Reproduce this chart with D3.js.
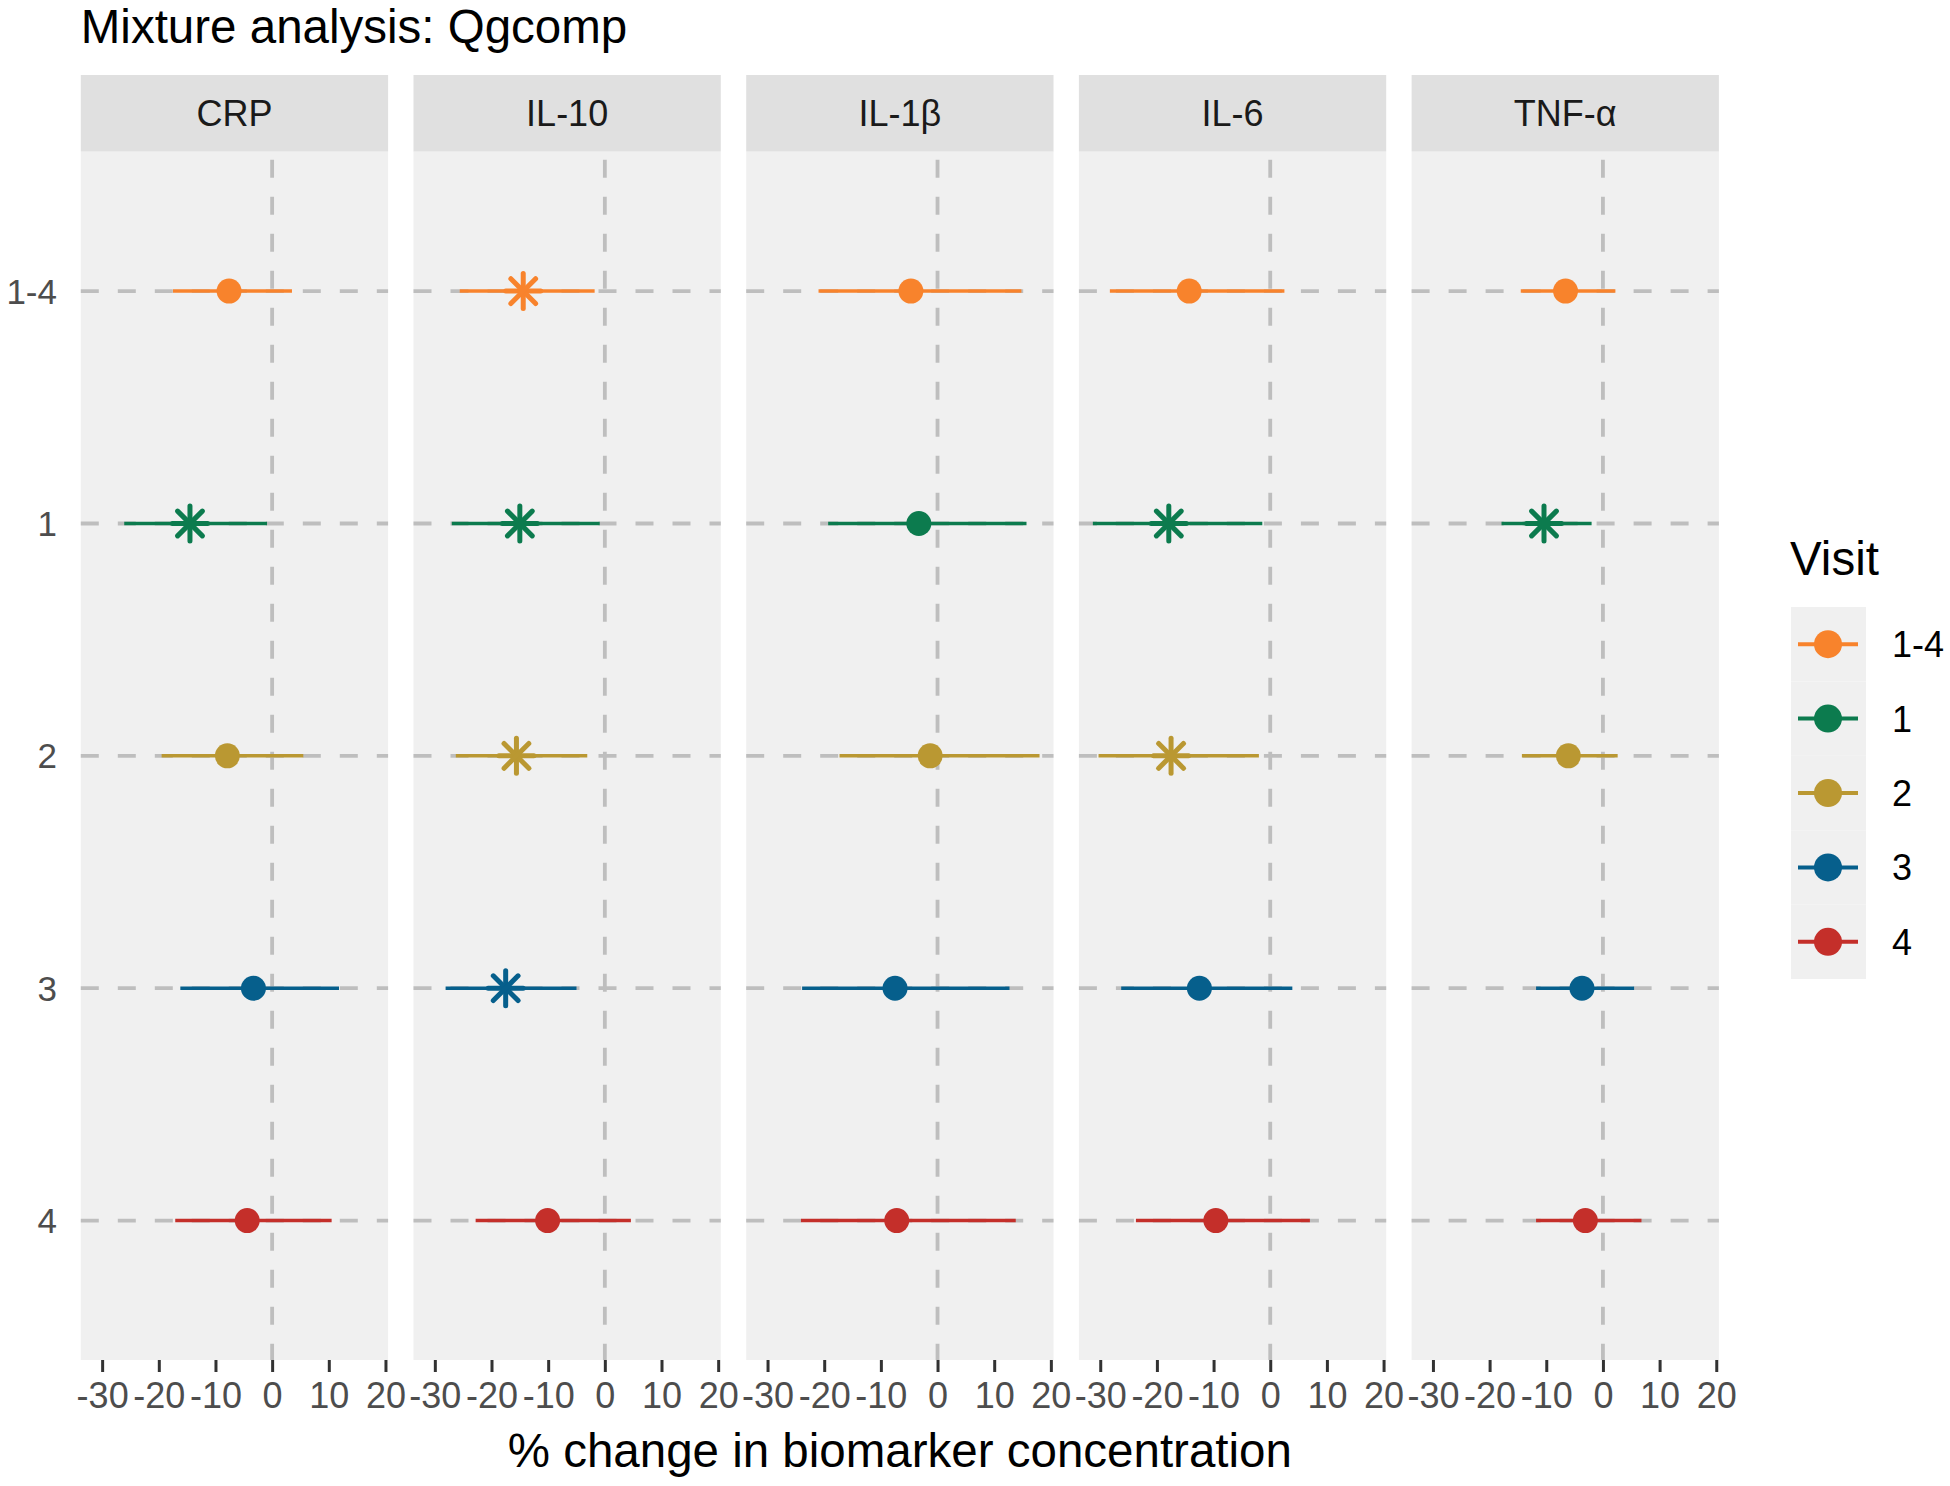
<!DOCTYPE html>
<html>
<head>
<meta charset="utf-8">
<script src="https://cdn.jsdelivr.net/npm/d3@7"></script>
<style>
  body { margin: 0; background: #fff; }
  svg text { font-family: "Liberation Sans", Arial, Helvetica, sans-serif; }
</style>
</head>
<body>
<div id="chart"></div>
<script>
// biomarkers (facets) and visits (rows)
const biomarkers = ["CRP", "IL-10", "IL-1β", "IL-6", "TNF-α"];
const visits = ["1-4", "1", "2", "3", "4"];
const visitColors = ["#F8832C", "#0C7B4E", "#BA9832", "#065F8C", "#C42F2A"];
const xTicks = [-30, -20, -10, 0, 10, 20];

// % change estimates, by visit order 1-4, 1, 2, 3, 4
const crpEst  = [-7.6, -14.5, -7.9, -3.3, -4.4];
const crpLo   = [-17.5, -26.1, -19.5, -16.2, -17.1];
const crpHi   = [3.5, -0.9, 5.5, 11.8, 10.5];
const il10Est = [-14.4, -15.0, -15.6, -17.5, -10.1];
const il10Lo  = [-25.6, -27.0, -26.3, -28.1, -22.8];
const il10Hi  = [-1.8, -0.9, -3.1, -5.0, 4.6];
const il1bEst = [-4.7, -3.3, -1.3, -7.5, -7.2];
const il1bLo  = [-21.0, -19.3, -17.3, -23.9, -24.1];
const il1bHi  = [14.8, 15.7, 18.0, 12.7, 13.8];
const il6Est  = [-14.3, -17.9, -17.5, -12.5, -9.6];
const il6Lo   = [-28.3, -31.3, -30.3, -26.3, -23.7];
const il6Hi   = [2.5, -1.4, -2.0, 3.9, 7.0];
const tnfEst  = [-6.6, -10.4, -6.1, -3.7, -3.1];
const tnfLo   = [-14.5, -17.9, -14.3, -11.8, -11.8];
const tnfHi   = [2.2, -2.0, 2.6, 5.5, 6.8];
// significant results drawn as asterisks
const crpSig  = [false, true, false, false, false];
const il10Sig = [true, true, true, true, false];
const il1bSig = [false, false, false, false, false];
const il6Sig  = [false, true, true, false, false];
const tnfSig  = [false, true, false, false, false];

const estimates = [crpEst, il10Est, il1bEst, il6Est, tnfEst];
const lowers = [crpLo, il10Lo, il1bLo, il6Lo, tnfLo];
const uppers = [crpHi, il10Hi, il1bHi, il6Hi, tnfHi];
const signif = [crpSig, il10Sig, il1bSig, il6Sig, tnfSig];

const rows = [];
biomarkers.forEach(function(b, i) {
  visits.forEach(function(v, j) {
    rows.push({bio: b, visit: v, est: estimates[i][j], lo: lowers[i][j], hi: uppers[i][j], sig: signif[i][j]});
  });
});

const W = 1950, H = 1486;
const panelLeft = 80.8, panelWidth = 307.3, panelStep = 332.7;
const stripTop = 75, stripBottom = 151.7, panelBottom = 1360;

const svg = d3.select("#chart").append("svg")
  .attr("width", W).attr("height", H);

// x scale: data range with 5% expansion, like ggplot
const lo = d3.min(rows, d => d.lo), hi = d3.max(rows, d => d.hi);
const pad = (hi - lo) * 0.05;
const x = d3.scaleLinear().domain([lo - pad, hi + pad]).range([0, panelWidth]);
const y = d3.scalePoint().domain(visits).range([stripBottom, panelBottom]).padding(0.6);
const color = d3.scaleOrdinal().domain(visits).range(visitColors);

// title
svg.append("text")
  .attr("x", panelLeft).attr("y", 43)
  .style("font-size", "47.5px").attr("fill", "#000")
  .text("Mixture analysis: Qgcomp");

// y labels
svg.append("g").selectAll("text")
  .data(visits).enter().append("text")
  .attr("x", 57).attr("y", d => y(d))
  .attr("dy", "0.36em")
  .attr("text-anchor", "end")
  .style("font-size", "35px").attr("fill", "#4D4D4D")
  .text(d => d);

const grey = "#BEBEBE";

biomarkers.forEach(function(b, i) {
  const g = svg.append("g")
    .attr("transform", "translate(" + (panelLeft + i * panelStep) + ",0)");

  // strip
  g.append("rect")
    .attr("x", 0).attr("y", stripTop)
    .attr("width", panelWidth).attr("height", stripBottom - stripTop)
    .attr("fill", "#E0E0E0");
  g.append("text")
    .attr("x", panelWidth / 2).attr("y", (stripTop + stripBottom) / 2)
    .attr("dy", "0.36em").attr("text-anchor", "middle")
    .style("font-size", "36px").attr("fill", "#1A1A1A")
    .text(b);

  // panel
  g.append("rect")
    .attr("x", 0).attr("y", stripBottom)
    .attr("width", panelWidth).attr("height", panelBottom - stripBottom)
    .attr("fill", "#F0F0F0");

  // dashed reference lines
  g.selectAll(".hline")
    .data(visits).enter().append("line")
    .attr("x1", 0).attr("x2", panelWidth)
    .attr("y1", d => y(d)).attr("y2", d => y(d))
    .attr("stroke", grey).attr("stroke-width", 3.8)
    .attr("stroke-dasharray", "18,19");
  g.append("line")
    .attr("x1", x(0)).attr("x2", x(0))
    .attr("y1", stripBottom + 8).attr("y2", panelBottom)
    .attr("stroke", grey).attr("stroke-width", 3.8)
    .attr("stroke-dasharray", "18,19");

  // x axis
  const ax = g.append("g")
    .attr("transform", "translate(0," + panelBottom + ")")
    .call(d3.axisBottom(x).tickValues(xTicks).tickSize(12).tickPadding(10).tickFormat(d => String(d)));
  ax.select(".domain").remove();
  ax.selectAll(".tick line").attr("stroke", "#333333").attr("stroke-width", 3);
  ax.selectAll(".tick text")
    .attr("fill", "#4D4D4D")
    .style("font-size", "36px")
    .style("font-family", "'Liberation Sans', Arial, sans-serif");

  const data = rows.filter(d => d.bio === b);

  // interval lines
  g.selectAll(".ci")
    .data(data).enter().append("line")
    .attr("x1", d => x(d.lo)).attr("x2", d => x(d.hi))
    .attr("y1", d => y(d.visit)).attr("y2", d => y(d.visit))
    .attr("stroke", d => color(d.visit)).attr("stroke-width", 3.5);

  // points
  g.selectAll(".pt")
    .data(data.filter(d => !d.sig)).enter().append("circle")
    .attr("cx", d => x(d.est)).attr("cy", d => y(d.visit))
    .attr("r", 12.5)
    .attr("fill", d => color(d.visit));

  // asterisks for significant estimates
  const star = g.selectAll(".star")
    .data(data.filter(d => d.sig)).enter().append("g")
    .attr("transform", d => "translate(" + x(d.est) + "," + y(d.visit) + ")");
  const arm = 17.5, diag = arm * Math.SQRT1_2;
  [[0, -arm, 0, arm], [-arm, 0, arm, 0], [-diag, -diag, diag, diag], [-diag, diag, diag, -diag]].forEach(function(s) {
    star.append("line")
      .attr("x1", s[0]).attr("y1", s[1]).attr("x2", s[2]).attr("y2", s[3])
      .attr("stroke", d => color(d.visit))
      .attr("stroke-width", 5).attr("stroke-linecap", "round");
  });
});

// x axis title
svg.append("text")
  .attr("x", panelLeft + (4 * panelStep + panelWidth) / 2).attr("y", 1467)
  .attr("text-anchor", "middle")
  .style("font-size", "47.5px").attr("fill", "#000")
  .text("% change in biomarker concentration");

// legend
const legend = svg.append("g").attr("transform", "translate(1790,0)");
legend.append("text")
  .attr("x", 0).attr("y", 575)
  .style("font-size", "47.5px").attr("fill", "#000")
  .text("Visit");
const keyH = 74.4, keyTop = 607;
const key = legend.selectAll(".key")
  .data(visits).enter().append("g")
  .attr("transform", (d, i) => "translate(0," + (keyTop + i * keyH) + ")");
key.append("rect")
  .attr("x", 1).attr("y", 0).attr("width", 75).attr("height", keyH)
  .attr("fill", "#F0F0F0");
key.append("line")
  .attr("x1", 8).attr("x2", 68).attr("y1", keyH / 2).attr("y2", keyH / 2)
  .attr("stroke", d => color(d)).attr("stroke-width", 4);
key.append("circle")
  .attr("cx", 38).attr("cy", keyH / 2).attr("r", 14)
  .attr("fill", d => color(d));
key.append("text")
  .attr("x", 102).attr("y", keyH / 2).attr("dy", "0.36em")
  .style("font-size", "36px").attr("fill", "#000")
  .text(d => d);
</script>
</body>
</html>
